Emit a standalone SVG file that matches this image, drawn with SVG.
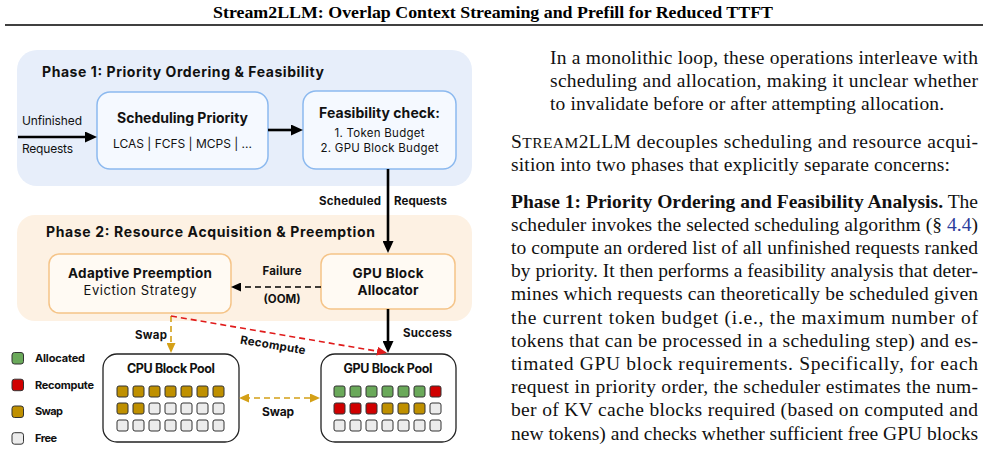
<svg xmlns="http://www.w3.org/2000/svg" width="988" height="461" viewBox="0 0 988 461">
<style>
.d{font-family:Inter,"Liberation Sans",sans-serif;fill:#111}
.b{font-weight:700}
.m{text-anchor:middle}
.e{text-anchor:end}
.body{font-family:"Liberation Serif","Times New Roman",serif;font-size:19.5px;fill:#111}
.cell{stroke:#333;stroke-width:1}
.g{fill:#6aa95a}.r{fill:#d00000}.y{fill:#bf9000}.f{fill:#ececec}
.n1{fill:#f5f9ff;stroke:#8cb9ef;stroke-width:1.5}
.n2{fill:#fffaf3;stroke:#f5c488;stroke-width:1.5}
.pool{fill:#fff;stroke:#222;stroke-width:1.3}
</style>
<defs>
<marker id="ah" markerUnits="userSpaceOnUse" markerWidth="12" markerHeight="11" refX="6" refY="5.5" orient="auto"><path d="M0,0 L12,5.5 L0,11 z" fill="#000"/></marker>
<marker id="ahs" markerUnits="userSpaceOnUse" markerWidth="10" markerHeight="9" refX="5" refY="4.5" orient="auto"><path d="M0,0 L10,4.5 L0,9 z" fill="#000"/></marker>
<marker id="ahr" markerUnits="userSpaceOnUse" markerWidth="10" markerHeight="9" refX="5" refY="4.5" orient="auto"><path d="M0,0 L10,4.5 L0,9 z" fill="#e01b1b"/></marker>
<marker id="ahy" markerUnits="userSpaceOnUse" markerWidth="10" markerHeight="9" refX="5" refY="4.5" orient="auto-start-reverse"><path d="M0,0 L10,4.5 L0,9 z" fill="#d4a017"/></marker>
</defs>
<rect width="988" height="461" fill="#fff"/>

<!-- header -->
<g id="header">
<text x="493" y="18" text-anchor="middle" font-family="'Liberation Serif',serif" font-weight="700" font-size="17" textLength="560" lengthAdjust="spacingAndGlyphs" fill="#000">Stream2LLM: Overlap Context Streaming and Prefill for Reduced TTFT</text>
<line x1="5" y1="25" x2="983" y2="25" stroke="#000" stroke-width="1.6"/>
</g>

<!-- phases -->
<g id="phase1">
<rect x="17" y="50" width="455" height="136" rx="20" fill="#e7eefa"/>
<text class="d b" x="42" y="77" font-size="14" textLength="282">Phase 1: Priority Ordering &amp; Feasibility</text>
</g>
<g id="phase2">
<rect x="17" y="215" width="455" height="106" rx="18" fill="#fdf1e3"/>
<text class="d b" x="46" y="237" font-size="14" textLength="329">Phase 2: Resource Acquisition &amp; Preemption</text>
</g>

<g id="scheduling-priority">
<rect class="n1" x="97" y="92" width="171" height="77" rx="13"/>
<text class="d b m" x="182.5" y="123" font-size="14" textLength="131">Scheduling Priority</text>
<text class="d m" x="182.5" y="148" font-size="12" textLength="139">LCAS | FCFS | MCPS | ...</text>
</g>
<g id="feasibility-check">
<rect class="n1" x="303" y="91" width="153" height="78" rx="13"/>
<text class="d b m" x="379.5" y="118" font-size="14" textLength="121">Feasibility check:</text>
<text class="d m" x="379.5" y="137" font-size="11.5" textLength="90">1. Token Budget</text>
<text class="d m" x="379.5" y="152" font-size="11.5" textLength="118">2. GPU Block Budget</text>
</g>
<g id="adaptive-preemption">
<rect class="n2" x="49" y="254" width="182" height="59" rx="10"/>
<text class="d b m" x="140" y="278" font-size="13.5" textLength="144">Adaptive Preemption</text>
<text class="d m" x="140" y="295" font-size="13" textLength="113">Eviction Strategy</text>
</g>
<g id="gpu-block-allocator">
<rect class="n2" x="321" y="254" width="134" height="55" rx="10"/>
<text class="d b m" x="388" y="278" font-size="13.5" textLength="71">GPU Block</text>
<text class="d b m" x="388" y="295" font-size="13.5" textLength="61">Allocator</text>
</g>

<g id="cpu-block-pool">
<rect class="pool" x="103" y="354" width="136" height="88" rx="14"/>
<text class="d b m" x="171" y="373" font-size="12.5" textLength="88">CPU Block Pool</text>
<rect class="cell y" x="117" y="386" width="11" height="11" rx="2"/><rect class="cell y" x="133" y="386" width="11" height="11" rx="2"/><rect class="cell y" x="149" y="386" width="11" height="11" rx="2"/><rect class="cell y" x="165" y="386" width="11" height="11" rx="2"/><rect class="cell y" x="181" y="386" width="11" height="11" rx="2"/><rect class="cell y" x="197" y="386" width="11" height="11" rx="2"/><rect class="cell y" x="213" y="386" width="11" height="11" rx="2"/>
<rect class="cell y" x="117" y="403" width="11" height="11" rx="2"/><rect class="cell y" x="133" y="403" width="11" height="11" rx="2"/><rect class="cell f" x="149" y="403" width="11" height="11" rx="2"/><rect class="cell f" x="165" y="403" width="11" height="11" rx="2"/><rect class="cell f" x="181" y="403" width="11" height="11" rx="2"/><rect class="cell f" x="197" y="403" width="11" height="11" rx="2"/><rect class="cell f" x="213" y="403" width="11" height="11" rx="2"/>
<rect class="cell f" x="117" y="420" width="11" height="11" rx="2"/><rect class="cell f" x="133" y="420" width="11" height="11" rx="2"/><rect class="cell f" x="149" y="420" width="11" height="11" rx="2"/><rect class="cell f" x="165" y="420" width="11" height="11" rx="2"/><rect class="cell f" x="181" y="420" width="11" height="11" rx="2"/><rect class="cell f" x="197" y="420" width="11" height="11" rx="2"/><rect class="cell f" x="213" y="420" width="11" height="11" rx="2"/>
</g>
<g id="gpu-block-pool">
<rect class="pool" x="321" y="354" width="135" height="88" rx="14"/>
<text class="d b m" x="388" y="373" font-size="12.5" textLength="89">GPU Block Pool</text>
<rect class="cell g" x="334" y="386" width="11" height="11" rx="2"/><rect class="cell g" x="350" y="386" width="11" height="11" rx="2"/><rect class="cell g" x="366" y="386" width="11" height="11" rx="2"/><rect class="cell g" x="382" y="386" width="11" height="11" rx="2"/><rect class="cell g" x="398" y="386" width="11" height="11" rx="2"/><rect class="cell g" x="414" y="386" width="11" height="11" rx="2"/><rect class="cell r" x="430" y="386" width="11" height="11" rx="2"/>
<rect class="cell r" x="334" y="403" width="11" height="11" rx="2"/><rect class="cell r" x="350" y="403" width="11" height="11" rx="2"/><rect class="cell r" x="366" y="403" width="11" height="11" rx="2"/><rect class="cell y" x="382" y="403" width="11" height="11" rx="2"/><rect class="cell y" x="398" y="403" width="11" height="11" rx="2"/><rect class="cell y" x="414" y="403" width="11" height="11" rx="2"/><rect class="cell f" x="430" y="403" width="11" height="11" rx="2"/>
<rect class="cell f" x="334" y="420" width="11" height="11" rx="2"/><rect class="cell f" x="350" y="420" width="11" height="11" rx="2"/><rect class="cell f" x="366" y="420" width="11" height="11" rx="2"/><rect class="cell f" x="382" y="420" width="11" height="11" rx="2"/><rect class="cell f" x="398" y="420" width="11" height="11" rx="2"/><rect class="cell f" x="414" y="420" width="11" height="11" rx="2"/><rect class="cell f" x="430" y="420" width="11" height="11" rx="2"/>
</g>

<g id="legend">
<rect class="cell g" x="12" y="352.5" width="11.5" height="11.5" rx="2.5"/>
<rect class="cell r" x="12" y="379.2" width="11.5" height="11.5" rx="2.5"/>
<rect class="cell y" x="12" y="406" width="11.5" height="11.5" rx="2.5"/>
<rect class="cell f" x="12" y="432.7" width="11.5" height="11.5" rx="2.5"/>
<text class="d b" x="35" y="362" font-size="11" textLength="50">Allocated</text>
<text class="d b" x="35" y="388.5" font-size="11" textLength="59">Recompute</text>
<text class="d b" x="35" y="415" font-size="11" textLength="28">Swap</text>
<text class="d b" x="35" y="441.5" font-size="11" textLength="22">Free</text>
</g>

<g id="connectors">
<line x1="18" y1="137" x2="91" y2="137" stroke="#000" stroke-width="2.6" marker-end="url(#ah)"/>
<line x1="268" y1="130" x2="297" y2="130" stroke="#000" stroke-width="2.6" marker-end="url(#ah)"/>
<line x1="388" y1="169" x2="388" y2="247" stroke="#000" stroke-width="2.6" marker-end="url(#ah)"/>
<line x1="321" y1="287" x2="236" y2="287" stroke="#000" stroke-width="1.6" stroke-dasharray="6,4" marker-end="url(#ahs)"/>
<line x1="388" y1="309" x2="388" y2="347" stroke="#000" stroke-width="2.6" marker-end="url(#ah)"/>
<line x1="171" y1="316" x2="171" y2="348" stroke="#d4a017" stroke-width="1.6" stroke-dasharray="6,4" marker-end="url(#ahy)"/>
<line x1="171" y1="316" x2="382" y2="352" stroke="#e01b1b" stroke-width="1.6" stroke-dasharray="6,4" marker-end="url(#ahr)"/>
<line x1="244" y1="398" x2="315" y2="398" stroke="#d4a017" stroke-width="1.6" stroke-dasharray="6,4" marker-start="url(#ahy)" marker-end="url(#ahy)"/>
<text class="d" x="22" y="125" font-size="12" textLength="60">Unfinished</text>
<text class="d" x="22" y="153" font-size="12" textLength="51">Requests</text>
<text class="d b e" x="381" y="205" font-size="11.5" textLength="62">Scheduled</text>
<text class="d b" x="394" y="205" font-size="11.5" textLength="53">Requests</text>
<text class="d b m" x="282" y="275" font-size="11.5" textLength="39">Failure</text>
<text class="d b m" x="282" y="303" font-size="11.5" textLength="37">(OOM)</text>
<text class="d b" x="403" y="337" font-size="11.5" textLength="49">Success</text>
<text class="d b e" x="167" y="339" font-size="11.5" textLength="32">Swap</text>
<text class="d b m" transform="translate(273,345) rotate(9.7)" y="4" font-size="11.5" textLength="66">Recompute</text>
<text class="d b m" x="278" y="416" font-size="12" textLength="32">Swap</text>
</g>

<g id="body-text">
<text class="body" x="550" y="64" textLength="428">In a monolithic loop, these operations interleave with</text>
<text class="body" x="550" y="87.2" textLength="428">scheduling and allocation, making it unclear whether</text>
<text class="body" x="550" y="110.4" textLength="394">to invalidate before or after attempting allocation.</text>
<text class="body" x="511" y="147.5" textLength="467">S<tspan font-size="15.5">TREAM</tspan>2LLM decouples scheduling and resource acqui-</text>
<text class="body" x="511" y="170.7" textLength="439">sition into two phases that explicitly separate concerns:</text>
<text class="body" x="511" y="207.5" textLength="467"><tspan font-weight="700">Phase 1: Priority Ordering and Feasibility Analysis.</tspan> The</text>
<text class="body" x="511" y="230.7" textLength="467">scheduler invokes the selected scheduling algorithm (§ <tspan fill="#2b3d9c">4.4</tspan>)</text>
<text class="body" x="511" y="253.9" textLength="467">to compute an ordered list of all unfinished requests ranked</text>
<text class="body" x="511" y="277.1" textLength="467">by priority. It then performs a feasibility analysis that deter-</text>
<text class="body" x="511" y="300.3" textLength="467">mines which requests can theoretically be scheduled given</text>
<text class="body" x="511" y="323.5" textLength="467">the current token budget (i.e., the maximum number of</text>
<text class="body" x="511" y="346.7" textLength="467">tokens that can be processed in a scheduling step) and es-</text>
<text class="body" x="511" y="369.9" textLength="467">timated GPU block requirements.  Specifically, for each</text>
<text class="body" x="511" y="393.1" textLength="467">request in priority order, the scheduler estimates the num-</text>
<text class="body" x="511" y="416.3" textLength="467">ber of KV cache blocks required (based on computed and</text>
<text class="body" x="511" y="439.5" textLength="467">new tokens) and checks whether sufficient free GPU blocks</text>
</g>
</svg>
